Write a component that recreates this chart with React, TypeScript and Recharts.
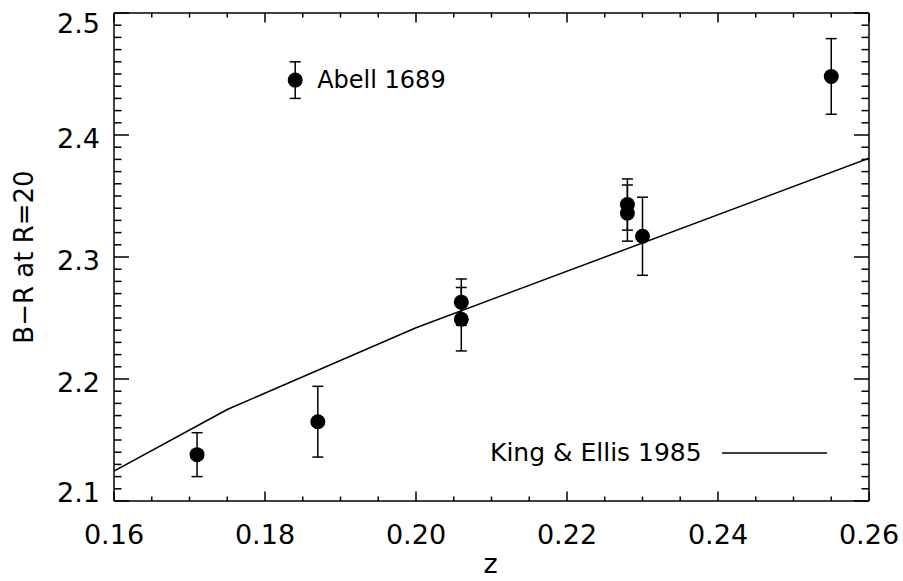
import {
  ScatterChart,
  Scatter,
  XAxis,
  YAxis,
  ErrorBar,
  LabelList,
  Legend,
} from "recharts";

// measured cluster colours (B-R at R=20) against redshift
const zValues = [0.171, 0.184, 0.187, 0.206, 0.206, 0.228, 0.228, 0.23, 0.255];
const colorValues = [2.138, 2.445, 2.165, 2.263, 2.249, 2.343, 2.336, 2.317, 2.448];
const colorErrors = [0.018, 0.015, 0.029, 0.019, 0.026, 0.021, 0.023, 0.032, 0.031];
const pointNotes = ["", "Abell 1689", "", "", "", "", "", "", ""];

// King & Ellis 1985 model curve
const modelZ = [0.16, 0.175, 0.2, 0.26];
const modelColor = [2.1246, 2.175, 2.242, 2.381];

// axis labels
const xMajorTicks = [0.16, 0.18, 0.2, 0.22, 0.24, 0.26];
const yMajorTicks = [2.1, 2.2, 2.3, 2.4, 2.5];

const xMinorStep = 0.005;
const yMinorStep = 0.01;
const xTicks = Array.from({ length: 21 }, (_, i) => +(0.16 + i * xMinorStep).toFixed(3));
const yTicks = Array.from({ length: 41 }, (_, i) => +(2.1 + i * yMinorStep).toFixed(2));

const points = zValues.map((z, i) => ({
  z,
  br: colorValues[i],
  err: colorErrors[i],
  note: pointNotes[i],
}));
const model = modelZ.map((z, i) => ({ z, br: modelColor[i] }));

const FONT = "'DejaVu Sans', sans-serif";

const isMajor = (v: number, list: number[]) => list.some((m) => Math.abs(m - v) < 1e-6);

const makeXTick = (side: "bottom" | "top") => (props: any) => {
  const { x, y, payload } = props;
  const major = isMajor(payload.value, xMajorTicks);
  const len = major ? 9.5 : 4.5;
  const dir = side === "bottom" ? -1 : 1;
  return (
    <g>
      <line x1={x} y1={y} x2={x} y2={y + dir * len} stroke="#000" strokeWidth={1.5} />
      {side === "bottom" && major && (
        <text x={x} y={y + 43} textAnchor="middle" fontFamily={FONT} fontSize={27} fill="#000">
          {payload.value.toFixed(2)}
        </text>
      )}
    </g>
  );
};

const makeYTick = (side: "left" | "right") => (props: any) => {
  const { x, y, payload } = props;
  const v = payload.value;
  const major = isMajor(v, yMajorTicks);
  const len = major ? 15 : 7.5;
  const dir = side === "left" ? 1 : -1;
  // labels at the ends sit inside the frame
  let shift = 3.5;
  if (Math.abs(v - 2.1) < 1e-6) shift = -9;
  if (Math.abs(v - 2.5) < 1e-6) shift = 10;
  return (
    <g>
      <line x1={x} y1={y} x2={x + dir * len} y2={y} stroke="#000" strokeWidth={1.5} />
      {side === "left" && major && (
        <text x={x - 14} y={y + shift + 9.8} textAnchor="end" fontFamily={FONT} fontSize={27} fill="#000">
          {v.toFixed(1)}
        </text>
      )}
    </g>
  );
};

const LegendContent = () => (
  <div style={{ display: "flex", alignItems: "center", fontFamily: FONT, fontSize: 25, color: "#000", whiteSpace: "nowrap" }}>
    <span>King &amp; Ellis 1985</span>
    <svg width={125} height={10} style={{ display: "block" }}>
      <line x1={20} y1={5} x2={125} y2={5} stroke="#000" strokeWidth={1.5} />
    </svg>
  </div>
);

export default function App() {
  return (
    <div style={{ position: "absolute", left: 0, top: 0, width: 903, height: 581, background: "#fff" }}>
      <ScatterChart width={903} height={581} margin={{ top: 12, right: 33, bottom: 0, left: 0 }}>
        <XAxis
          xAxisId="bottom"
          dataKey="z"
          type="number"
          domain={[0.16, 0.26]}
          allowDataOverflow
          ticks={xTicks}
          interval={0}
          tickSize={0}
          tickMargin={0}
          tickLine={false}
          tick={makeXTick("bottom")}
          axisLine={{ stroke: "#000", strokeWidth: 1.5 }}
          height={80}
          label={{
            content: (p: any) => (
              <text
                x={p.viewBox.x + p.viewBox.width / 2 - 1}
                y={p.viewBox.y + 72}
                textAnchor="middle"
                fontFamily={FONT}
                fontSize={27}
                fill="#000"
              >
                z
              </text>
            ),
          }}
        />
        <XAxis
          xAxisId="top"
          orientation="top"
          dataKey="z"
          type="number"
          domain={[0.16, 0.26]}
          allowDataOverflow
          ticks={xTicks}
          interval={0}
          tickSize={0}
          tickMargin={0}
          tickLine={false}
          tick={makeXTick("top")}
          axisLine={{ stroke: "#000", strokeWidth: 1.5 }}
          height={1}
        />
        <YAxis
          yAxisId="left"
          dataKey="br"
          type="number"
          domain={[2.1, 2.5]}
          allowDataOverflow
          ticks={yTicks}
          interval={0}
          tickSize={0}
          tickMargin={0}
          tickLine={false}
          tick={makeYTick("left")}
          axisLine={{ stroke: "#000", strokeWidth: 1.5 }}
          width={114}
          label={{
            content: (p: any) => {
              const cx = p.viewBox.x + 24;
              const cy = p.viewBox.y + p.viewBox.height / 2;
              return (
                <text
                  x={cx}
                  y={cy}
                  transform={`rotate(-90 ${cx} ${cy})`}
                  textAnchor="middle"
                  dominantBaseline="central"
                  fontFamily={FONT}
                  fontSize={26}
                  fill="#000"
                >
                  B−R at R=20
                </text>
              );
            },
          }}
        />
        <YAxis
          yAxisId="right"
          orientation="right"
          dataKey="br"
          type="number"
          domain={[2.1, 2.5]}
          allowDataOverflow
          ticks={yTicks}
          interval={0}
          tickSize={0}
          tickMargin={0}
          tickLine={false}
          tick={makeYTick("right")}
          axisLine={{ stroke: "#000", strokeWidth: 1.5 }}
          width={1}
        />

        <Legend
          layout="horizontal"
          verticalAlign="middle"
          align="center"
          content={<LegendContent />}
          wrapperStyle={{ left: 490, top: 438, width: "auto" }}
        />

        {/* invisible copy bound to the top/right axes so the frame is drawn */}
        <Scatter
          name="frame"
          data={model}
          xAxisId="top"
          yAxisId="right"
          shape={() => <g />}
          legendType="none"
          isAnimationActive={false}
        />

        {/* model curve */}
        <Scatter
          name="King & Ellis 1985"
          data={model}
          xAxisId="bottom"
          yAxisId="left"
          line={{ stroke: "#000", strokeWidth: 1.5 }}
          lineType="joint"
          shape={() => <g />}
          legendType="line"
          isAnimationActive={false}
        />

        {/* cluster points */}
        <Scatter
          name="clusters"
          data={points}
          xAxisId="bottom"
          yAxisId="left"
          legendType="none"
          shape={(p: any) => <circle cx={p.cx} cy={p.cy} r={7.5} fill="#000" />}
          isAnimationActive={false}
        >
          <ErrorBar dataKey="err" direction="y" width={5.5} stroke="#000" strokeWidth={1.5} isAnimationActive={false} />
          <LabelList
            dataKey="note"
            content={(p: any) =>
              p.value ? (
                <text
                  x={p.x + p.width / 2 + 22}
                  y={p.y + p.height / 2}
                  dominantBaseline="central"
                  fontFamily={FONT}
                  fontSize={24}
                  fill="#000"
                >
                  {p.value}
                </text>
              ) : null
            }
          />
        </Scatter>
      </ScatterChart>
    </div>
  );
}
